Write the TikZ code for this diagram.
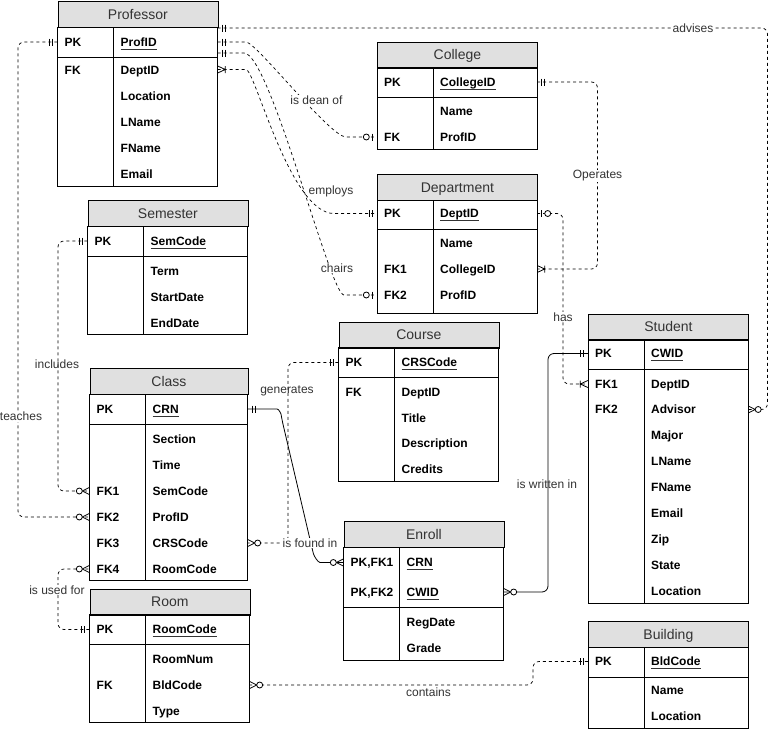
\documentclass[tikz,border=0pt]{standalone}
\usepackage{fontspec}
\setmainfont{Liberation Sans}
\definecolor{hdrgray}{HTML}{E0E0E0}
\definecolor{txtgray}{HTML}{333333}
\newcommand{\ulx}[1]{\setbox0\hbox{#1}\rlap{\color{txtgray}\rule[-3pt]{\wd0}{0.6pt}}\box0}
\newcommand{\fl}[4]{\node[fld] (#1) at (#2,#3) {#4};}
\newcommand{\rp}[4]{\node[rowpt, minimum width=#4pt] (#1) at (#2,#3) {};}
\tikzset{
 erone/.pic={\draw[solid,line width=0.8pt] (4.5,-3.5)--(4.5,3.5) (7.5,-3.5)--(7.5,3.5);},
 erzone/.pic={\draw[solid,line width=0.8pt] (4,-3.5)--(4,3.5); \draw[solid,line width=0.8pt,fill=white] (10.5,0) circle (3pt);},
 erzmany/.pic={\draw[solid,line width=0.8pt] (0,-3.5)--(7,0)--(0,3.5); \draw[solid,line width=0.8pt,fill=white] (10,0) circle (3pt);},
 eromany/.pic={\draw[solid,line width=0.8pt] (0,-3.5)--(7.5,0)--(0,3.5) (7.5,-3.5)--(7.5,3.5);},
}
\begin{document}
\begin{tikzpicture}[x=1pt,y=-1pt,
 hdr/.style={draw=black, fill=hdrgray, line width=0.8pt, minimum height=26pt, inner sep=0pt, anchor=north west, font=\fontsize{14}{16}\selectfont, text=txtgray, text height=10pt, text depth=0pt},
 tb/.style={line width=0.8pt},
 fld/.style={anchor=west, inner sep=0pt, font=\fontsize{12}{14}\selectfont\bfseries, text height=8.6pt, text depth=0pt},
 rowpt/.style={inner sep=0pt, minimum height=0pt, draw=none},
 lbl/.style={font=\fontsize{12}{14}\selectfont, text=txtgray, inner sep=1pt},
 lblw/.style={lbl, fill=white},
 dconn/.style={line width=0.7pt, dash pattern=on 3pt off 3pt, rounded corners=6pt},
 sconn/.style={line width=0.8pt, rounded corners=6pt},
]
\useasboundingbox (0,0) rectangle (777,731);

% ---------- Professor
\node[hdr, minimum width=160pt] (prof) at (57.5,1) {Professor};
\draw[tb] (57.5,27) rectangle (217.5,186.5);
\draw[tb] (57.5,57) -- (217.5,57) (113.5,27) -- (113.5,186.5);
\fl{prof-k1}{64.5}{42}{PK} \fl{prof-v1}{120.5}{42}{\ulx{ProfID}}
\fl{prof-k2}{64.5}{70}{FK} \fl{prof-v2}{120.5}{70}{DeptID}
\fl{prof-v3}{120.5}{96}{Location}
\fl{prof-v4}{120.5}{122}{LName}
\fl{prof-v5}{120.5}{148}{FName}
\fl{prof-v6}{120.5}{174}{Email}
\rp{prof-a}{137.5}{28}{160}
\rp{prof-pk}{137.5}{42}{160}
\rp{prof-c}{137.5}{53}{160}
\rp{prof-e}{137.5}{69.5}{160}

% ---------- College
\node[hdr, minimum width=160pt] (col) at (377,41.5) {College};
\draw[tb] (377,67.5) rectangle (537,149.5);
\draw[tb] (377,97.5) -- (537,97.5) (433,67.5) -- (433,149.5);
\fl{col-k1}{384}{82}{PK} \fl{col-v1}{440}{82}{\ulx{CollegeID}}
\fl{col-v2}{440}{111.5}{Name}
\fl{col-k3}{384}{137}{FK} \fl{col-v3}{440}{137}{ProfID}
\rp{col-pk}{457}{82}{160}
\rp{col-fk}{457}{137}{160}

% ---------- Department
\node[hdr, minimum width=160pt] (dep) at (377,174) {Department};
\draw[tb] (377,200) rectangle (537,313);
\draw[tb] (377,229) -- (537,229) (433,200) -- (433,313);
\fl{dep-k1}{384}{213.5}{PK} \fl{dep-v1}{440}{213.5}{\ulx{DeptID}}
\fl{dep-v2}{440}{243}{Name}
\fl{dep-k3}{384}{269}{FK1} \fl{dep-v3}{440}{269}{CollegeID}
\fl{dep-k4}{384}{295}{FK2} \fl{dep-v4}{440}{295}{ProfID}
\rp{dep-pk}{457}{213.5}{160}
\rp{dep-fk1}{457}{269}{160}
\rp{dep-fk2}{457}{295}{160}

% ---------- Semester
\node[hdr, minimum width=160pt] (sem) at (87.5,200) {Semester};
\draw[tb] (87.5,226) rectangle (247.5,334);
\draw[tb] (87.5,256) -- (247.5,256) (143.5,226) -- (143.5,334);
\fl{sem-k1}{94.5}{241}{PK} \fl{sem-v1}{150.5}{241}{\ulx{SemCode}}
\fl{sem-v2}{150.5}{271}{Term}
\fl{sem-v3}{150.5}{297}{StartDate}
\fl{sem-v4}{150.5}{323}{EndDate}
\rp{sem-pk}{167.5}{241}{160}

% ---------- Class
\node[hdr, minimum width=158pt] (cls) at (89.5,368) {Class};
\draw[tb] (89.5,394) rectangle (247.5,580);
\draw[tb] (89.5,424) -- (247.5,424) (145.5,394) -- (145.5,580);
\fl{cls-k1}{96.5}{409}{PK} \fl{cls-v1}{152.5}{409}{\ulx{CRN}}
\fl{cls-v2}{152.5}{439}{Section}
\fl{cls-v3}{152.5}{465}{Time}
\fl{cls-k4}{96.5}{491}{FK1} \fl{cls-v4}{152.5}{491}{SemCode}
\fl{cls-k5}{96.5}{517}{FK2} \fl{cls-v5}{152.5}{517}{ProfID}
\fl{cls-k6}{96.5}{543}{FK3} \fl{cls-v6}{152.5}{543}{CRSCode}
\fl{cls-k7}{96.5}{569}{FK4} \fl{cls-v7}{152.5}{569}{RoomCode}
\rp{cls-pk}{168.5}{409}{158}
\rp{cls-fk1}{168.5}{491}{158}
\rp{cls-fk2}{168.5}{517}{158}
\rp{cls-fk3}{168.5}{543}{158}
\rp{cls-fk4}{168.5}{569}{158}

% ---------- Room
\node[hdr, minimum width=160pt] (room) at (89.5,588.5) {Room};
\draw[tb] (89.5,614.5) rectangle (249.5,722.5);
\draw[tb] (89.5,644.5) -- (249.5,644.5) (145.5,614.5) -- (145.5,722.5);
\fl{room-k1}{96.5}{629.5}{PK} \fl{room-v1}{152.5}{629.5}{\ulx{RoomCode}}
\fl{room-v2}{152.5}{659}{RoomNum}
\fl{room-k3}{96.5}{685}{FK} \fl{room-v3}{152.5}{685}{BldCode}
\fl{room-v4}{152.5}{711}{Type}
\rp{room-pk}{169.5}{629.5}{160}
\rp{room-fk}{169.5}{685}{160}

% ---------- Course
\node[hdr, minimum width=160pt] (crs) at (338.5,321.5) {Course};
\draw[tb] (338.5,347.5) rectangle (498.5,481.5);
\draw[tb] (338.5,377.5) -- (498.5,377.5) (394.5,347.5) -- (394.5,481.5);
\fl{crs-k1}{345.5}{362.5}{PK} \fl{crs-v1}{401.5}{362.5}{\ulx{CRSCode}}
\fl{crs-k2}{345.5}{392}{FK} \fl{crs-v2}{401.5}{392}{DeptID}
\fl{crs-v3}{401.5}{418}{Title}
\fl{crs-v4}{401.5}{443.5}{Description}
\fl{crs-v5}{401.5}{469.5}{Credits}
\rp{crs-pk}{418.5}{362.5}{160}

% ---------- Enroll
\node[hdr, minimum width=160pt] (enr) at (343.5,521) {Enroll};
\draw[tb] (343.5,547) rectangle (503.5,660);
\draw[tb] (343.5,607) -- (503.5,607) (399.5,547) -- (399.5,660);
\fl{enr-k1}{350.5}{562.5}{PK,FK1} \fl{enr-v1}{406.5}{562.5}{\ulx{CRN}}
\fl{enr-k2}{350.5}{592}{PK,FK2} \fl{enr-v2}{406.5}{592}{\ulx{CWID}}
\fl{enr-v3}{406.5}{622}{RegDate}
\fl{enr-v4}{406.5}{648}{Grade}
\rp{enr-crn}{423.5}{562.5}{160}
\rp{enr-cwid}{423.5}{592}{160}

% ---------- Student
\node[hdr, minimum width=160pt] (stu) at (588,313.5) {Student};
\draw[tb] (588,339.5) rectangle (748,603.5);
\draw[tb] (588,369.5) -- (748,369.5) (644,339.5) -- (644,603.5);
\fl{stu-k1}{595}{353.5}{PK} \fl{stu-v1}{651}{353.5}{\ulx{CWID}}
\fl{stu-k2}{595}{384}{FK1} \fl{stu-v2}{651}{384}{DeptID}
\fl{stu-k3}{595}{409.5}{FK2} \fl{stu-v3}{651}{409.5}{Advisor}
\fl{stu-v4}{651}{435.5}{Major}
\fl{stu-v5}{651}{461.5}{LName}
\fl{stu-v6}{651}{487.5}{FName}
\fl{stu-v7}{651}{513.5}{Email}
\fl{stu-v8}{651}{539.5}{Zip}
\fl{stu-v9}{651}{565.5}{State}
\fl{stu-v10}{651}{591.5}{Location}
\rp{stu-pk}{668}{353.5}{160}
\rp{stu-fk1}{668}{384}{160}
\rp{stu-adv}{668}{409.5}{160}

% ---------- Building
\node[hdr, minimum width=160pt] (bld) at (588,621) {Building};
\draw[tb] (588,647) rectangle (748,728.5);
\draw[tb] (588,677) -- (748,677) (644,647) -- (644,728.5);
\fl{bld-k1}{595}{661.5}{PK} \fl{bld-v1}{651}{661.5}{\ulx{BldCode}}
\fl{bld-v2}{651}{690.5}{Name}
\fl{bld-v3}{651}{716.5}{Location}
\rp{bld-pk}{668}{661.5}{160}

% ---------- connectors
\draw[dconn] (prof-a.east) -- (767.5,28) -- (767.5,409.5) -- (stu-adv.east);
\draw[dconn] (prof-pk.east) -- (240,42) .. controls (256,42) and (330,137) .. (352,137) -- (col-fk.west);
\draw[dconn] (prof-c.east) -- (238,53) .. controls (270,53) and (330,295) .. (350,295) -- (dep-fk2.west);
\draw[dconn] (prof-e.east) -- (240,69.5) .. controls (255,69.5) and (290,213.5) .. (340,213.5) -- (dep-pk.west);
\draw[dconn] (col-pk.east) -- (597.5,82) -- (597.5,269) -- (dep-fk1.east);
\draw[dconn] (dep-pk.east) -- (563,213.5) -- (563,384) -- (stu-fk1.west);
\draw[sconn] (stu-pk.west) -- (548,353.5) -- (548,592) -- (enr-cwid.east);
\draw[sconn] (cls-pk.east) -- (271,409) .. controls (279,409) and (281,414) .. (282,420) -- (312,548) .. controls (314,556) and (318,562.5) .. (326,562.5) -- (enr-crn.west);
\draw[dconn] (crs-pk.west) -- (288,362.5) -- (288,543) -- (cls-fk3.east);
\draw[dconn] (sem-pk.west) -- (58,241) -- (58,491) -- (cls-fk1.west);
\draw[dconn] (prof-pk.west) -- (18,42) -- (18,517) -- (cls-fk2.west);
\draw[dconn] (room-pk.west) -- (58,629.5) -- (58,569) -- (cls-fk4.west);
\draw[dconn] (bld-pk.west) -- (533,661.5) -- (533,685) -- (room-fk.east);

% ---------- end markers
\path (prof-a.east) pic {erone};
\path (stu-adv.east) pic {erzmany};
\path (prof-pk.east) pic {erone};
\path (col-fk.west) pic[xscale=-1] {erzone};
\path (prof-c.east) pic {erone};
\path (dep-fk2.west) pic[xscale=-1] {erzone};
\path (prof-e.east) pic {eromany};
\path (dep-pk.west) pic[xscale=-1] {erone};
\path (col-pk.east) pic {erone};
\path (dep-fk1.east) pic {eromany};
\path (dep-pk.east) pic {erzone};
\path (stu-fk1.west) pic[xscale=-1] {eromany};
\path (stu-pk.west) pic[xscale=-1] {erone};
\path (enr-cwid.east) pic {erzmany};
\path (cls-pk.east) pic {erone};
\path (enr-crn.west) pic[xscale=-1] {erzmany};
\path (crs-pk.west) pic[xscale=-1] {erone};
\path (cls-fk3.east) pic {erzmany};
\path (sem-pk.west) pic[xscale=-1] {erone};
\path (cls-fk1.west) pic[xscale=-1] {erzmany};
\path (prof-pk.west) pic[xscale=-1] {erone};
\path (cls-fk2.west) pic[xscale=-1] {erzmany};
\path (room-pk.west) pic[xscale=-1] {erone};
\path (cls-fk4.west) pic[xscale=-1] {erzmany};
\path (bld-pk.west) pic[xscale=-1] {erone};
\path (room-fk.east) pic {erzmany};

% ---------- labels
\node[lblw] (l-adv) at (693,28) {advises};
\node[lblw] (l-dean) at (316.5,100) {is dean of};
\node[lblw] (l-emp) at (331,191) {employs};
\node[lblw] (l-chr) at (337,268) {chairs};
\node[lblw] (l-ops) at (597.5,176) {Operates};
\node[lblw] (l-has) at (563,317) {has};
\node[lbl] (l-wri) at (547,484) {is written in};
\node[lblw] (l-fnd) at (310,543) {is found in};
\node[lbl] (l-gen) at (287,391) {generates};
\node[lbl] (l-inc) at (57,364) {includes};
\node[lblw] (l-tch) at (21,416.5) {teaches};
\node[lblw] (l-use) at (57,590) {is used for};
\node[lbl] (l-con) at (428.5,692.5) {contains};
\end{tikzpicture}
\end{document}
